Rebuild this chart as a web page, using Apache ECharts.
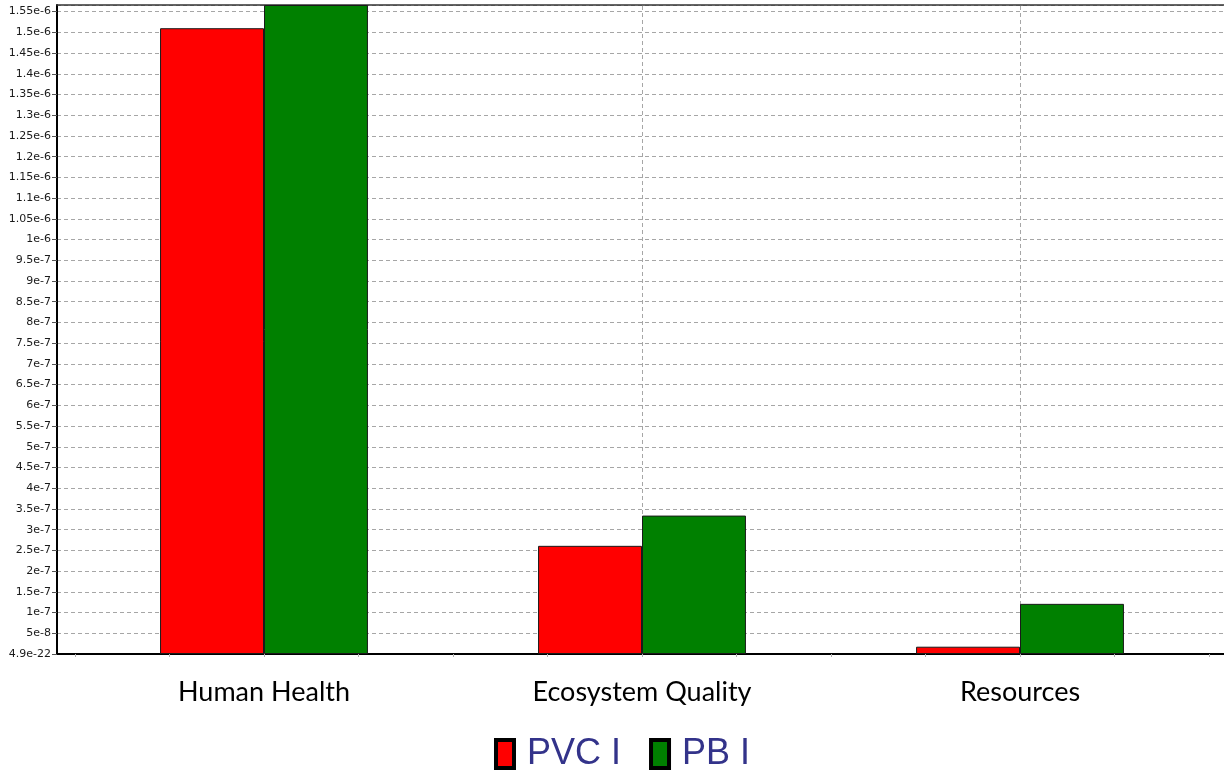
<!DOCTYPE html>
<html>
<head>
<meta charset="utf-8">
<script src="https://cdn.jsdelivr.net/npm/echarts@6/dist/echarts.min.js"></script>
<style>
  html, body { margin: 0; padding: 0; background: #ffffff; }
  #chart { width: 1224px; height: 780px; }
</style>
</head>
<body>
<div id="chart"></div>
<script>
// Impact categories and the two compared products
const categories = ['Human Health', 'Ecosystem Quality', 'Resources'];
const pvcValues = [1.51e-6, 2.61e-7, 1.76e-8];
const pbValues = [1.566e-6, 3.34e-7, 1.21e-7];
const seriesNames = ['PVC I', 'PB I'];

// Value axis: step 5e-8, top of the scale at the largest value
const yStep = 5e-8;
const yMax = 1.566e-6;
const yTickLabels = [
  '4.9e-22', '5e-8', '1e-7', '1.5e-7', '2e-7', '2.5e-7', '3e-7', '3.5e-7',
  '4e-7', '4.5e-7', '5e-7', '5.5e-7', '6e-7', '6.5e-7', '7e-7', '7.5e-7',
  '8e-7', '8.5e-7', '9e-7', '9.5e-7', '1e-6', '1.05e-6', '1.1e-6', '1.15e-6',
  '1.2e-6', '1.25e-6', '1.3e-6', '1.35e-6', '1.4e-6', '1.45e-6', '1.5e-6', '1.55e-6'
];

const chart = echarts.init(document.getElementById('chart'), null, { renderer: 'canvas' });

const dashed = { color: '#a6a6a6', width: 1, type: [4, 3] };

const option = {
  backgroundColor: '#ffffff',
  animation: false,
  grid: [
    // frame, value scale and horizontal guide lines
    { left: 57, right: 0, top: 5, bottom: 126, containLabel: false },
    // bars
    { left: 75, right: 15, top: 5, bottom: 126, containLabel: false }
  ],
  xAxis: [
    {
      gridIndex: 0, type: 'value', position: 'bottom', min: 0, max: 1,
      axisLine: { show: true, lineStyle: { color: '#000000', width: 2 } },
      axisTick: { show: false }, axisLabel: { show: false }, splitLine: { show: false }
    },
    {
      gridIndex: 0, type: 'value', position: 'top', min: 0, max: 1,
      axisLine: { show: true, lineStyle: { color: '#333333', width: 1.5 } },
      axisTick: { show: false }, axisLabel: { show: false }, splitLine: { show: false }
    },
    {
      gridIndex: 1, type: 'category', position: 'bottom', data: categories,
      axisLine: { show: false }, axisTick: { show: false }, splitLine: { show: false },
      axisLabel: {
        show: true, margin: 25, color: '#000000',
        fontFamily: 'Lato', fontSize: 27
      }
    },
    {
      // small quarter-band tick marks under the baseline
      gridIndex: 1, type: 'value', position: 'bottom', min: 0, max: 12, interval: 1,
      axisLine: { show: false },
      axisTick: { show: true, length: 3, lineStyle: { color: '#b0b0b0', width: 1 } },
      axisLabel: { show: false }, splitLine: { show: false }
    }
  ],
  yAxis: [
    {
      gridIndex: 0, type: 'value', min: 0, max: yMax, interval: yStep,
      axisLine: { show: true, lineStyle: { color: '#000000', width: 2 } },
      axisTick: { show: true, length: 5, lineStyle: { color: '#555555', width: 1 } },
      axisLabel: {
        show: true, margin: 6, color: '#1a1a1a',
        fontFamily: 'DejaVu Sans', fontSize: 11,
        showMaxLabel: false,
        formatter: function (value) {
          const i = Math.round(value / yStep);
          return yTickLabels[i] !== undefined && Math.abs(value - i * yStep) < yStep * 1e-3 ? yTickLabels[i] : '';
        }
      },
      splitLine: { show: true, lineStyle: dashed }
    },
    {
      gridIndex: 1, type: 'value', min: 0, max: yMax, interval: yStep,
      show: false
    }
  ],
  legend: {
    data: seriesNames,
    left: 494, top: 736,
    padding: 0,
    itemWidth: 18, itemHeight: 28, itemGap: 28,
    icon: 'rect',
    itemStyle: { borderColor: '#000000', borderWidth: 4 },
    textStyle: {
      color: '#33338a', fontFamily: 'Liberation Sans', fontSize: 36,
      padding: [0, 0, 0, 8]
    }
  },
  series: [
    {
      // vertical guide lines at the centre of each category band
      type: 'line', xAxisIndex: 2, yAxisIndex: 1, data: [],
      silent: true, z: 1,
      markLine: {
        z: 1, silent: true, symbol: 'none',
        label: { show: false },
        lineStyle: dashed,
        data: categories.map(c => ({ xAxis: c }))
      }
    },
    {
      name: seriesNames[0], type: 'bar', xAxisIndex: 2, yAxisIndex: 1,
      data: pvcValues,
      barGap: '0%', barCategoryGap: '45%',
      itemStyle: { color: '#ff0000', borderColor: '#1a1a1a', borderWidth: 1 },
      z: 3
    },
    {
      name: seriesNames[1], type: 'bar', xAxisIndex: 2, yAxisIndex: 1,
      data: pbValues,
      barGap: '0%', barCategoryGap: '45%',
      itemStyle: { color: '#008000', borderColor: '#1a1a1a', borderWidth: 1 },
      z: 3
    }
  ]
};

chart.setOption(option);
</script>
</body>
</html>
